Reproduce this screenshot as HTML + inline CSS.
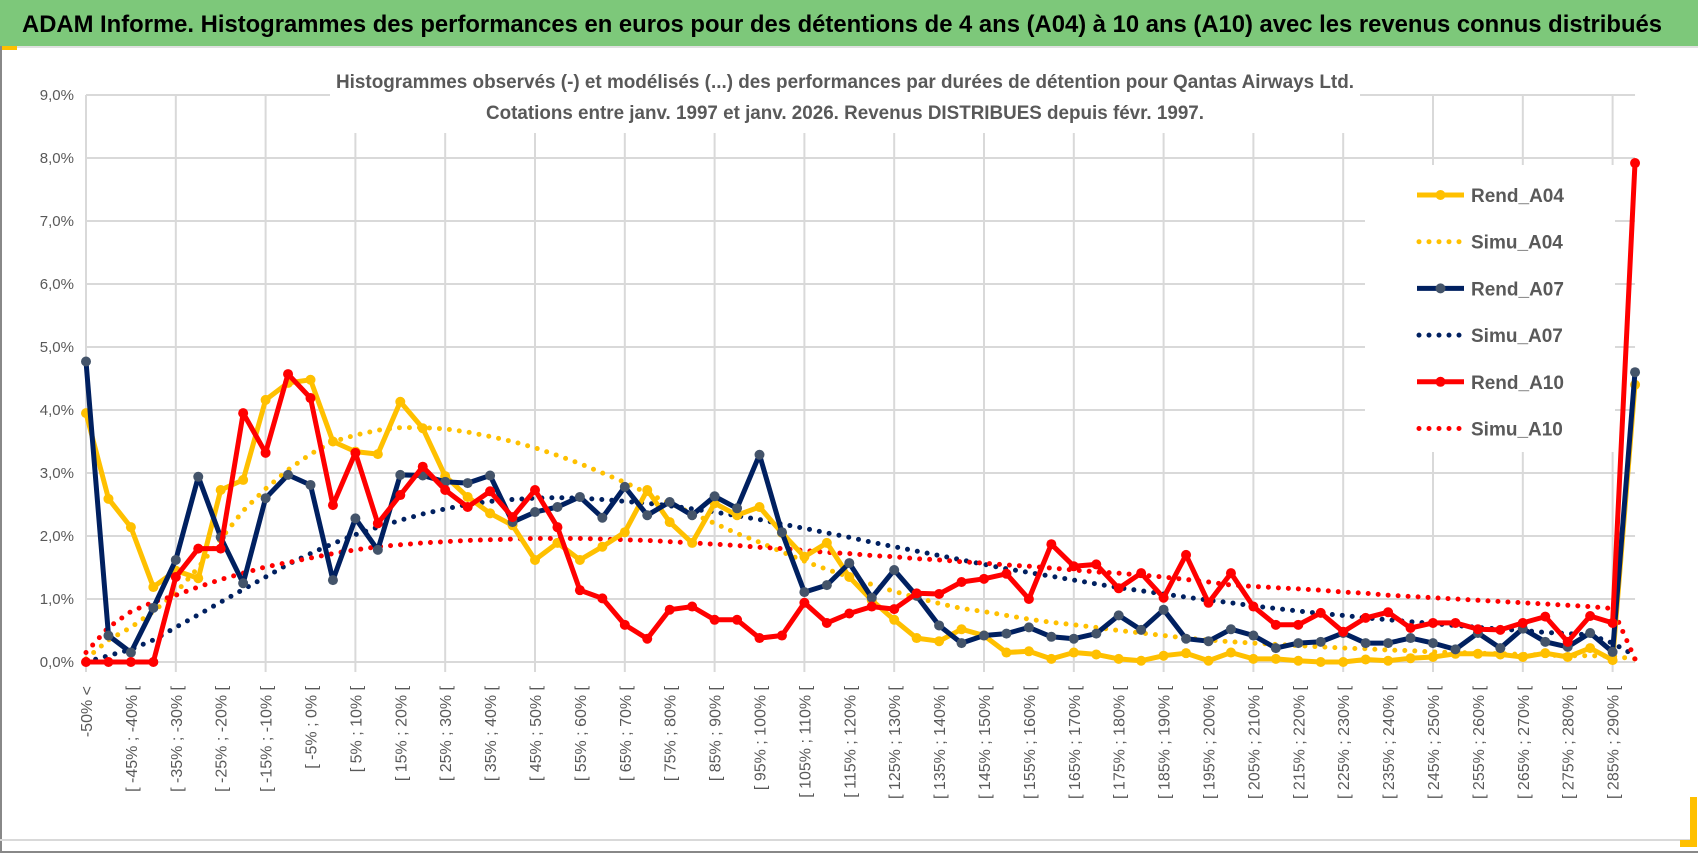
<!DOCTYPE html>
<html><head><meta charset="utf-8"><style>
html,body{margin:0;padding:0;background:#fff;}
svg{display:block;font-family:"Liberation Sans",sans-serif;}
</style></head><body>
<svg id="chart" width="1698" height="854" viewBox="0 0 1698 854">
<rect x="0" y="0" width="1698" height="854" fill="#fff"/>
<rect x="0" y="0" width="1698" height="46" fill="#7dc87a"/>
<text x="22" y="32" font-size="24" font-weight="bold" fill="#000" textLength="1640" lengthAdjust="spacingAndGlyphs">ADAM Informe. Histogrammes des performances en euros pour des détentions de 4 ans (A04) à 10 ans (A10) avec les revenus connus distribués</text>
<line x1="0" y1="47" x2="1698" y2="47" stroke="#e0e0e0" stroke-width="2"/>
<rect x="0" y="46" width="17" height="4" fill="#ffc000"/>
<line x1="1" y1="46" x2="1" y2="852" stroke="#888" stroke-width="2"/>
<line x1="0" y1="840" x2="1690" y2="840" stroke="#d9d9d9" stroke-width="2"/>
<line x1="0" y1="852" x2="1698" y2="852" stroke="#888" stroke-width="2"/>
<rect x="1690" y="797" width="7" height="50" fill="#ffc000"/>
<rect x="1680" y="840" width="17" height="7" fill="#ffc000"/>
<g id="grid"></g>
<g id="axes"></g>
<rect x="330" y="58" width="1030" height="75" fill="#fff"/>
<text x="845" y="88" text-anchor="middle" font-size="19" font-weight="bold" fill="#595959" textLength="1018" lengthAdjust="spacingAndGlyphs">Histogrammes observés (-) et modélisés (...) des performances par durées de détention pour Qantas Airways Ltd.</text>
<text x="845" y="119" text-anchor="middle" font-size="19" font-weight="bold" fill="#595959" textLength="718" lengthAdjust="spacingAndGlyphs">Cotations entre janv. 1997 et janv. 2026. Revenus DISTRIBUES depuis févr. 1997.</text>
<rect x="1365" y="165" width="250" height="287" fill="#fff"/>
<g id="series"></g>
<g id="legend"></g>
</svg>
<script>
const categories = ["-50% <"];
for (let lo = -50; lo < 295; lo += 5) categories.push("[ " + lo + "% ; " + (lo + 5) + "% [");
const yTicks = [0,1,2,3,4,5,6,7,8,9];
const yTickLabels = ["0,0%","1,0%","2,0%","3,0%","4,0%","5,0%","6,0%","7,0%","8,0%","9,0%"];
const rendA04 = [3.95,2.59,2.14,1.19,1.45,1.33,2.73,2.89,4.16,4.43,4.48,3.5,3.34,3.3,4.13,3.71,2.95,2.62,2.36,2.17,1.62,1.89,1.62,1.83,2.06,2.73,2.22,1.89,2.52,2.33,2.46,2.05,1.67,1.89,1.35,0.98,0.67,0.38,0.33,0.52,0.42,0.15,0.17,0.05,0.15,0.12,0.05,0.02,0.1,0.14,0.02,0.15,0.05,0.05,0.02,0.0,0.0,0.04,0.02,0.06,0.08,0.13,0.13,0.12,0.08,0.14,0.08,0.22,0.03,4.4];
const simuA04 = [0.05,0.35,0.55,0.8,1.1,1.5,1.95,2.4,2.75,3.05,3.3,3.5,3.6,3.68,3.72,3.72,3.7,3.65,3.58,3.5,3.4,3.28,3.15,3.0,2.85,2.68,2.52,2.36,2.2,2.04,1.9,1.75,1.6,1.47,1.35,1.23,1.12,1.02,0.93,0.85,0.8,0.74,0.68,0.63,0.59,0.55,0.5,0.46,0.42,0.38,0.35,0.32,0.3,0.28,0.26,0.24,0.22,0.21,0.19,0.18,0.16,0.15,0.14,0.13,0.12,0.11,0.1,0.1,0.09,0.05];
const rendA07 = [4.77,0.42,0.15,0.86,1.62,2.94,1.98,1.25,2.6,2.97,2.81,1.3,2.28,1.78,2.97,2.96,2.86,2.84,2.96,2.22,2.38,2.46,2.62,2.29,2.78,2.33,2.54,2.33,2.63,2.44,3.29,2.06,1.11,1.22,1.57,1.02,1.46,1.05,0.58,0.3,0.42,0.45,0.55,0.4,0.37,0.45,0.74,0.51,0.83,0.37,0.33,0.52,0.42,0.22,0.3,0.32,0.46,0.3,0.3,0.38,0.3,0.2,0.46,0.22,0.53,0.32,0.24,0.46,0.16,4.6];
const simuA07 = [0.0,0.1,0.2,0.35,0.55,0.75,0.95,1.15,1.35,1.55,1.72,1.88,2.02,2.14,2.25,2.35,2.43,2.5,2.55,2.58,2.6,2.61,2.6,2.58,2.55,2.52,2.48,2.43,2.38,2.32,2.26,2.19,2.12,2.05,1.98,1.9,1.83,1.76,1.69,1.62,1.55,1.48,1.42,1.36,1.3,1.24,1.18,1.13,1.08,1.03,0.98,0.94,0.89,0.85,0.81,0.77,0.74,0.7,0.67,0.64,0.61,0.58,0.55,0.52,0.5,0.47,0.45,0.43,0.3,0.1];
const rendA10 = [0,0,0,0,1.35,1.8,1.8,3.95,3.32,4.57,4.19,2.49,3.32,2.2,2.65,3.1,2.73,2.46,2.71,2.3,2.73,2.14,1.14,1.01,0.59,0.37,0.83,0.88,0.67,0.67,0.38,0.42,0.94,0.62,0.77,0.88,0.84,1.09,1.08,1.27,1.32,1.4,1.0,1.87,1.52,1.55,1.17,1.41,1.02,1.7,0.94,1.41,0.88,0.59,0.59,0.78,0.48,0.7,0.79,0.54,0.62,0.62,0.52,0.51,0.62,0.72,0.32,0.73,0.62,7.92];
const simuA10 = [0.15,0.55,0.8,0.95,1.06,1.19,1.31,1.41,1.51,1.58,1.65,1.72,1.78,1.83,1.86,1.89,1.91,1.93,1.94,1.95,1.96,1.96,1.96,1.95,1.94,1.93,1.91,1.89,1.87,1.85,1.82,1.8,1.77,1.74,1.72,1.69,1.67,1.64,1.62,1.59,1.57,1.54,1.52,1.49,1.46,1.43,1.41,1.38,1.35,1.31,1.27,1.22,1.2,1.18,1.16,1.14,1.11,1.09,1.06,1.04,1.02,1.0,0.98,0.96,0.94,0.92,0.9,0.88,0.85,0.05];
const seriesNames = ["Rend_A04","Simu_A04","Rend_A07","Simu_A07","Rend_A10","Simu_A10"];

const NS = "http://www.w3.org/2000/svg";
const X0 = 86, STEP = 22.45, Y0 = 662, YPX = 63;
function xPos(i){ return X0 + i * STEP; }
function yPos(v){ return Y0 - v * YPX; }
function mk(tag, attrs, parent){ const e = document.createElementNS(NS, tag); for (const k in attrs) e.setAttribute(k, attrs[k]); parent.appendChild(e); return e; }

const grid = document.getElementById("grid");
const axes = document.getElementById("axes");
yTicks.forEach((t, k) => {
  const l = mk("line", {x1: X0, x2: xPos(categories.length - 1), y1: yPos(t), y2: yPos(t), stroke: "#d9d9d9", "stroke-width": 2}, grid);
  
  
  const tx = mk("text", {x: 74, y: yPos(t) + 5, "text-anchor": "end", "font-size": 15, fill: "#595959"}, axes);
  tx.textContent = yTickLabels[k];
  
  
});
for (let i = 0; i < categories.length; i += 2) {
  if (i % 4 === 0) {
    const g = mk("line", {x1: xPos(i), x2: xPos(i), y1: yPos(9), y2: Y0 + 10, stroke: "#d9d9d9", "stroke-width": 2}, grid);
    
    
  }
  const tx = mk("text", {transform: "translate(" + (xPos(i) + 6) + ",686) rotate(-90)", "text-anchor": "end", "font-size": 16, fill: "#595959"}, axes);
  tx.textContent = categories[i];
  
  
}

const ser = document.getElementById("series");
function pts(arr){ return arr.map((v, i) => xPos(i).toFixed(1) + "," + yPos(v).toFixed(1)).join(" "); }
function dotted(arr, color, name){
  const p = mk("polyline", {points: pts(arr), fill: "none", stroke: color, "stroke-width": 5, "stroke-linecap": "round", "stroke-dasharray": "0 10"}, ser);
  
  
}
function solid(arr, color, mcolor, name){
  const p = mk("polyline", {points: pts(arr), fill: "none", stroke: color, "stroke-width": 5, "stroke-linejoin": "round"}, ser);
  
  
  arr.forEach((v, i) => {
    const c = mk("circle", {cx: xPos(i), cy: yPos(v), r: 5, fill: mcolor}, ser);
    
    
  });
}
dotted(simuA04, "#ffc000", "simu-a04-line");
dotted(simuA07, "#002060", "simu-a07-line");
dotted(simuA10, "#ff0000", "simu-a10-line");
solid(rendA04, "#ffc000", "#ffc000", "rend-a04-line");
solid(rendA07, "#002060", "#44546a", "rend-a07-line");
solid(rendA10, "#ff0000", "#ff0000", "rend-a10-line");

const leg = document.getElementById("legend");
const legColors = ["#ffc000","#ffc000","#002060","#002060","#ff0000","#ff0000"];
const legMarker = ["#ffc000",null,"#44546a",null,"#ff0000",null];
seriesNames.forEach((n, k) => {
  const y = 195 + k * 46.7;
  if (k % 2 === 0) {
    const l = mk("line", {x1: 1417, x2: 1464, y1: y, y2: y, stroke: legColors[k], "stroke-width": 5}, leg);
    
    
    const c = mk("circle", {cx: 1440.5, cy: y, r: 5, fill: legMarker[k]}, leg);
    
    
  } else {
    const l = mk("line", {x1: 1419, x2: 1464, y1: y, y2: y, stroke: legColors[k], "stroke-width": 5, "stroke-linecap": "round", "stroke-dasharray": "0 10"}, leg);
    
    
  }
  const t = mk("text", {x: 1471, y: y + 7, "font-size": 19, "font-weight": "bold", fill: "#595959"}, leg);
  t.textContent = n;
  
  
});
</script>
</body></html>
